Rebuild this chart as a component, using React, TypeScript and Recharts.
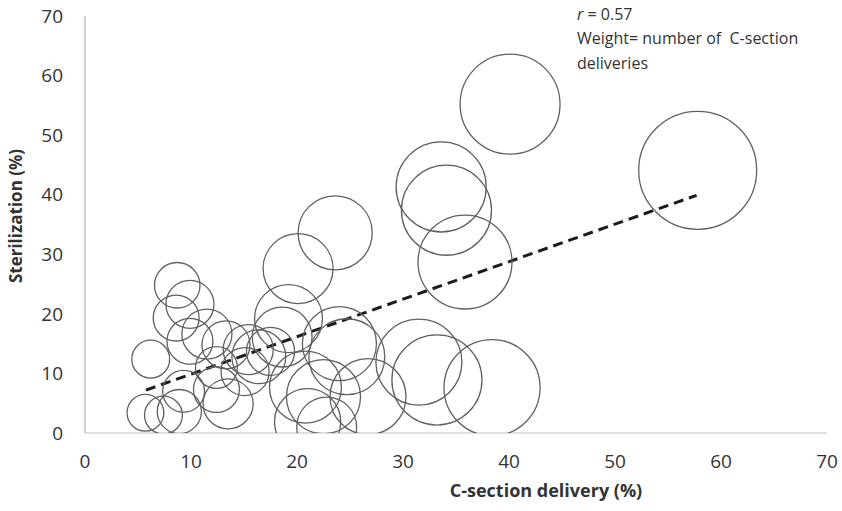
import React from 'react';
import { ScatterChart, Scatter, XAxis, YAxis, ZAxis, ReferenceLine } from 'recharts';

// C-section delivery (%)
const cSection = [
  40.1, 57.8, 33.6, 34.1, 35.85, 23.6, 20.1, 19.2, 31.5, 33.2, 38.4, 26.7, 24.0, 24.7,
  8.7, 9.9, 8.6, 11.5, 9.9, 6.2, 13.3, 12.4, 12.4, 13.5, 9.3, 5.7, 7.4, 8.9,
  15.4, 16.4, 15.1, 17.5, 18.6, 20.8, 22.5, 21.0, 22.8,
];
// Sterilization (%)
const sterilization = [
  55.2, 44.1, 41.3, 37.4, 28.7, 33.6, 27.6, 19.2, 11.9, 8.9, 7.6, 6.1, 15.0, 12.8,
  24.8, 21.6, 19.3, 16.6, 15.4, 12.4, 14.8, 11.0, 7.3, 4.9, 7.0, 3.4, 3.0, 3.6,
  14.0, 12.8, 10.3, 13.7, 16.1, 7.7, 6.1, 1.9, 1.0,
];
// Weight = number of C-section deliveries (relative)
const weight = [
  251, 350, 204, 204, 222, 138, 123, 116, 186, 204, 232, 145, 138, 145,
  52, 58, 53, 63, 53, 36, 58, 44, 53, 63, 44, 34, 36, 49,
  63, 73, 58, 58, 90, 130, 138, 110, 90,
];

// Linear trend line end points
const trendX = [5.75, 57.7];
const trendY = [7.2, 39.9];

const axisTicks = [0, 10, 20, 30, 40, 50, 60, 70];

const data = cSection.map((x, i) => ({ x, y: sterilization[i], z: weight[i] }));

const FONT = '"Open Sans", "Liberation Sans", sans-serif';

const Bubble = (props: any) => {
  const { cx, cy, width, size } = props;
  if (cx == null || cy == null) return null;
  const r = width != null ? width / 2 : Math.sqrt((size || 0) / Math.PI);
  return <circle cx={cx} cy={cy} r={r} fill="none" stroke="#606060" strokeWidth={1.3} />;
};

export default function App() {
  const W = 842;
  const H = 511;
  const tickStyle = { fontFamily: FONT, fontSize: 19, fill: '#333' };
  return (
    <div style={{ position: 'absolute', left: 0, top: 0, width: W, height: H, background: '#fff' }}>
      <ScatterChart width={W} height={H} margin={{ top: 16, right: 15, left: 0, bottom: 0 }}>
        <XAxis
          type="number"
          dataKey="x"
          domain={[0, 70]}
          ticks={axisTicks}
          allowDataOverflow
          tickLine={false}
          tickMargin={16}
          height={78}
          axisLine={{ stroke: '#d4d4d4', strokeWidth: 1.6 }}
          tick={tickStyle}
        />
        <YAxis
          type="number"
          dataKey="y"
          domain={[0, 70]}
          ticks={axisTicks}
          allowDataOverflow
          tickLine={false}
          tickMargin={16}
          width={85}
          axisLine={{ stroke: '#c4c4c4', strokeWidth: 1.6 }}
          tick={tickStyle}
        />
        <ZAxis type="number" dataKey="z" domain={[0, 350]} range={[0, Math.PI * 59 * 59]} />
        <Scatter data={data} shape={<Bubble />} isAnimationActive={false} />
        <ReferenceLine
          segment={[
            { x: trendX[0], y: trendY[0] },
            { x: trendX[1], y: trendY[1] },
          ]}
          stroke="#1c1c1c"
          strokeWidth={3}
          strokeDasharray="10 6"
        />
      </ScatterChart>
      <svg
        width={W}
        height={H}
        style={{ position: 'absolute', left: 0, top: 0, pointerEvents: 'none' }}
      >
        <text x={577} y={20} fontFamily={FONT} fontSize={16} fill="#333">
          <tspan fontStyle="italic">r</tspan>
          <tspan> = 0.57</tspan>
        </text>
        <text x={577} y={44} fontFamily={FONT} fontSize={16} fill="#333" style={{ whiteSpace: 'pre' }}>
          {'Weight= number of  C-section'}
        </text>
        <text x={577} y={69} fontFamily={FONT} fontSize={16} fill="#333">
          deliveries
        </text>
        <text
          x={546}
          y={497}
          textAnchor="middle"
          fontFamily={FONT}
          fontSize={18}
          fontWeight="bold"
          fill="#333"
        >
          C-section delivery (%)
        </text>
        <text
          x={22}
          y={216}
          textAnchor="middle"
          transform="rotate(-90 22 216)"
          fontFamily={FONT}
          fontSize={17}
          fontWeight="bold"
          fill="#333"
        >
          Sterilization (%)
        </text>
      </svg>
    </div>
  );
}
